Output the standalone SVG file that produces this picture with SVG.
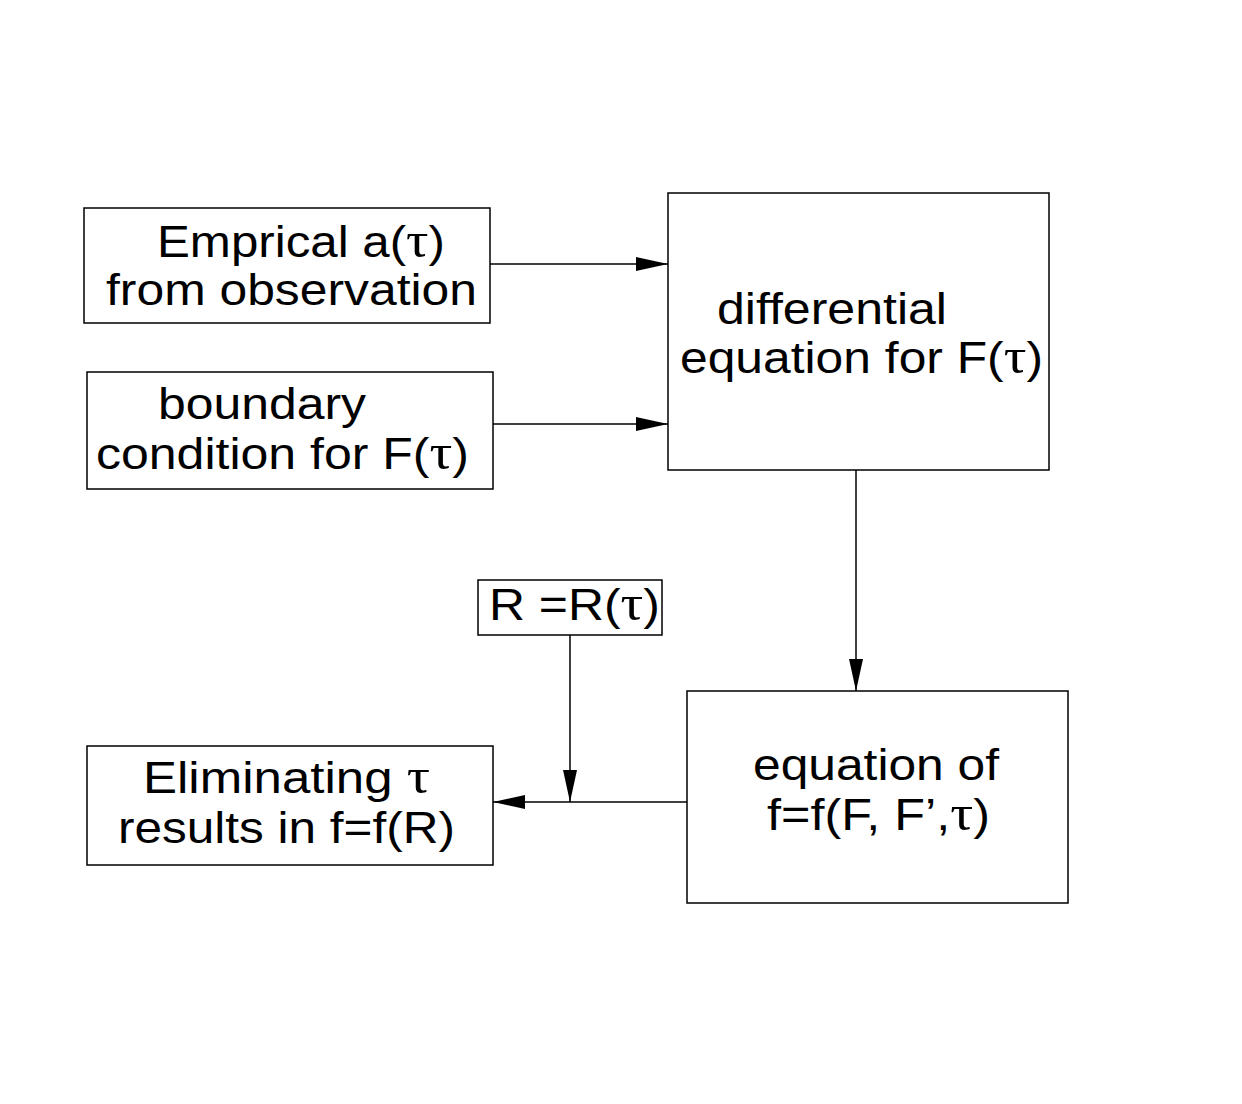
<svg xmlns="http://www.w3.org/2000/svg" width="1242" height="1104" viewBox="0 0 1242 1104">
<style>
rect{fill:none;stroke:#000;stroke-width:1.5}
text{font-family:"Liberation Sans",Arial,sans-serif;font-size:44px;fill:#000}
.t{font-family:"Liberation Serif","Times New Roman",serif;font-size:50px}
line{stroke:#000;stroke-width:1.5}
</style>
<defs><marker id="a" markerWidth="32" markerHeight="14" refX="32" refY="7" orient="auto" markerUnits="userSpaceOnUse"><path d="M0,0L32,7L0,14z" fill="#000"/></marker></defs>
<g id="n1"><rect x="84" y="208" width="406" height="115"/>
<text x="157" y="257" textLength="288" lengthAdjust="spacingAndGlyphs">Emprical a(<tspan class="t">τ</tspan>)</text>
<text x="106" y="305" textLength="371" lengthAdjust="spacingAndGlyphs">from observation</text></g>
<g id="n2"><rect x="87" y="372" width="406" height="117"/>
<text x="158" y="419" textLength="208" lengthAdjust="spacingAndGlyphs">boundary</text>
<text x="96" y="469" textLength="373" lengthAdjust="spacingAndGlyphs">condition for F(<tspan class="t">τ</tspan>)</text></g>
<g id="n3"><rect x="668" y="193" width="381" height="277"/>
<text x="717" y="324" textLength="230" lengthAdjust="spacingAndGlyphs">differential</text>
<text x="680" y="373" textLength="363" lengthAdjust="spacingAndGlyphs">equation for F(<tspan class="t">τ</tspan>)</text></g>
<g id="n4"><rect x="478" y="580" width="184" height="55"/>
<text x="489" y="620" textLength="171" lengthAdjust="spacingAndGlyphs">R =R(<tspan class="t">τ</tspan>)</text></g>
<g id="n5"><rect x="87" y="746" width="406" height="119"/>
<text x="143" y="793" textLength="287" lengthAdjust="spacingAndGlyphs">Eliminating <tspan class="t">τ</tspan></text>
<text x="118" y="843" textLength="337" lengthAdjust="spacingAndGlyphs">results in f=f(R)</text></g>
<g id="n6"><rect x="687" y="691" width="381" height="212"/>
<text x="753" y="780" textLength="246" lengthAdjust="spacingAndGlyphs">equation of</text>
<text x="767" y="830" textLength="223" lengthAdjust="spacingAndGlyphs">f=f(F, F’,<tspan class="t">τ</tspan>)</text></g>
<g id="edges">
<line x1="490" y1="264" x2="668" y2="264" marker-end="url(#a)"/>
<line x1="493" y1="424" x2="668" y2="424" marker-end="url(#a)"/>
<line x1="856" y1="470" x2="856" y2="691" marker-end="url(#a)"/>
<line x1="687" y1="802" x2="493" y2="802" marker-end="url(#a)"/>
<line x1="570" y1="635" x2="570" y2="802" marker-end="url(#a)"/>
</g>
</svg>
